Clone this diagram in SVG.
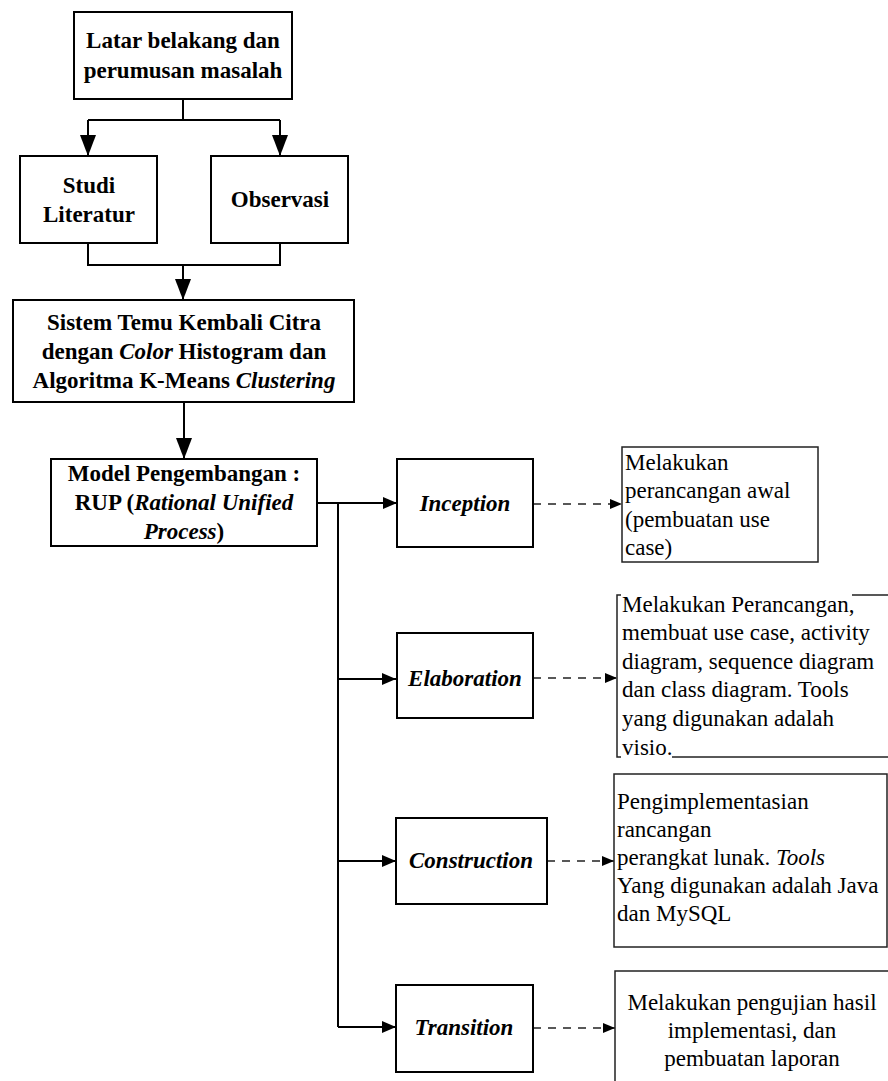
<svg xmlns="http://www.w3.org/2000/svg" width="888" height="1081" viewBox="0 0 888 1081">
<style>
.box{fill:#fff;stroke:#000;stroke-width:2}
.note{fill:#fff;stroke:#222;stroke-width:1.5}
.b{font-family:"Liberation Serif","Times New Roman",serif;font-weight:bold;font-size:23px;fill:#000}
.t{font-family:"Liberation Serif","Times New Roman",serif;font-size:23px;fill:#000}
.c{text-anchor:middle}
.i{font-style:italic}
.ln{fill:none;stroke:#000;stroke-width:2}
.big{marker-end:url(#ab)}
.sm{marker-end:url(#as)}
.dash{fill:none;stroke:#222;stroke-width:1.5;stroke-dasharray:8 7;marker-end:url(#ad)}
</style>
<defs>
<marker id="ab" markerUnits="userSpaceOnUse" markerWidth="22" markerHeight="18" refX="21" refY="8" orient="auto"><path d="M0,0 L21,8 L0,16 Z" fill="#000"/></marker>
<marker id="as" markerUnits="userSpaceOnUse" markerWidth="16" markerHeight="14" refX="14" refY="6" orient="auto"><path d="M0,0 L14,6 L0,12 Z" fill="#000"/></marker>
<marker id="ad" markerUnits="userSpaceOnUse" markerWidth="14" markerHeight="12" refX="12" refY="5" orient="auto"><path d="M0,0 L12,5 L0,10 Z" fill="#000"/></marker>
</defs>
<rect width="888" height="1081" fill="#fff"/>

<g id="connectors">
<path class="ln" d="M183,99 V120 M88,120 H280"/>
<path class="ln big" d="M88,120 V156"/>
<path class="ln big" d="M280,120 V156"/>
<path class="ln" d="M88,243 V265 H280 V243"/>
<path class="ln big" d="M183,265 V300"/>
<path class="ln big" d="M184,402 V459"/>
<path class="ln sm" d="M317,503 H397"/>
<path class="ln" d="M338,503 V1027"/>
<path class="ln sm" d="M338,679 H396"/>
<path class="ln sm" d="M338,861 H396"/>
<path class="ln sm" d="M338,1027 H396"/>
<path class="dash" d="M533,504 H622"/>
<path class="dash" d="M533,678 H617"/>
<path class="dash" d="M547,861 H614"/>
<path class="dash" d="M533,1028 H615"/>
</g>

<g id="latar">
<rect class="box" x="74" y="12" width="218" height="87"/>
<text class="b c" x="183" y="48">Latar belakang dan</text>
<text class="b c" x="183" y="78">perumusan masalah</text>
</g>

<g id="studi">
<rect class="box" x="20" y="156" width="137" height="87"/>
<text class="b c" x="89" y="193">Studi</text>
<text class="b c" x="89" y="222">Literatur</text>
</g>

<g id="observasi">
<rect class="box" x="211" y="156" width="137" height="87"/>
<text class="b c" x="280" y="207">Observasi</text>
</g>

<g id="sistem">
<rect class="box" x="13" y="300" width="341" height="102"/>
<text class="b c" x="184" y="330">Sistem Temu Kembali Citra</text>
<text class="b c" x="184" y="359">dengan <tspan class="i">Color</tspan> Histogram dan</text>
<text class="b c" x="184" y="388">Algoritma K-Means <tspan class="i">Clustering</tspan></text>
</g>

<g id="model">
<rect class="box" x="51" y="459" width="266" height="87"/>
<text class="b c" x="184" y="481">Model Pengembangan :</text>
<text class="b c" x="184" y="510">RUP (<tspan class="i">Rational Unified</tspan></text>
<text class="b c" x="184" y="539"><tspan class="i">Process</tspan>)</text>
</g>

<g id="inception">
<rect class="box" x="397" y="459" width="136" height="88"/>
<text class="b i c" x="465" y="511">Inception</text>
</g>

<g id="elaboration">
<rect class="box" x="397" y="633" width="136" height="85"/>
<text class="b i c" x="465" y="686">Elaboration</text>
</g>

<g id="construction">
<rect class="box" x="396" y="818" width="151" height="86"/>
<text class="b i c" x="471" y="868">Construction</text>
</g>

<g id="transition">
<rect class="box" x="396" y="985" width="137" height="87"/>
<text class="b i c" x="464" y="1035">Transition</text>
</g>

<g id="note-inception">
<rect class="note" x="622" y="447" width="196" height="115"/>
<text class="t" x="625" y="470">Melakukan</text>
<text class="t" x="625" y="498">perancangan awal</text>
<text class="t" x="625" y="527">(pembuatan use</text>
<text class="t" x="625" y="555">case)</text>
</g>

<g id="note-elaboration">
<rect class="note" x="617" y="595" width="275" height="162"/>
<rect x="621" y="591" width="231" height="8" fill="#fff"/>
<rect x="621" y="753" width="51" height="8" fill="#fff"/>
<text class="t" x="622" y="612">Melakukan Perancangan,</text>
<text class="t" x="622" y="640">membuat use case, activity</text>
<text class="t" x="622" y="669">diagram, sequence diagram</text>
<text class="t" x="622" y="697">dan class diagram. Tools</text>
<text class="t" x="622" y="726">yang digunakan adalah</text>
<text class="t" x="622" y="755">visio.</text>
</g>

<g id="note-construction">
<rect class="note" x="614" y="774" width="273" height="173"/>
<text class="t" x="617" y="809">Pengimplementasian</text>
<text class="t" x="617" y="837">rancangan</text>
<text class="t" x="617" y="865">perangkat lunak. <tspan class="i">Tools</tspan></text>
<text class="t" x="617" y="893">Yang digunakan adalah Java</text>
<text class="t" x="617" y="921">dan MySQL</text>
</g>

<g id="note-transition">
<rect class="note" x="615" y="971" width="280" height="120"/>
<text class="t c" x="752" y="1010">Melakukan pengujian hasil</text>
<text class="t c" x="752" y="1038">implementasi, dan</text>
<text class="t c" x="752" y="1066">pembuatan laporan</text>
</g>
</svg>
